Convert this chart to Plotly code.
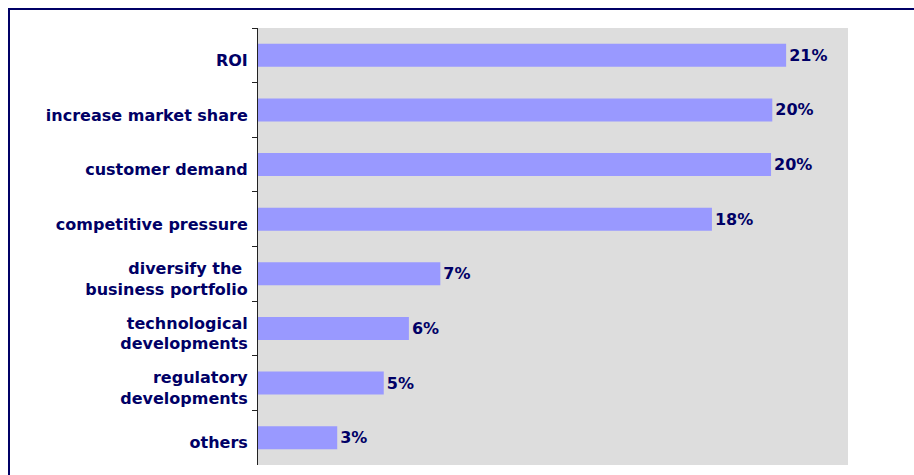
import plotly.graph_objects as go

# Reasons cited, top to bottom
categories = [
    "ROI",
    "increase market share",
    "customer demand",
    "competitive pressure",
    "diversify the <br>business portfolio",
    "technological<br>developments",
    "regulatory<br>developments",
    "others",
]
# Share of respondents (%)
shares = [21.0, 20.45, 20.4, 18.05, 7.25, 6.0, 5.0, 3.15]

NAVY = "#000066"
BAR = "#9999FF"
PLOT_BG = "#DDDDDD"
FONT = "DejaVu Sans, Arial, sans-serif"

W, H = 914, 475
L, R, T, B = 258, 66, 28, 10

fig = go.Figure(
    go.Bar(
        x=shares,
        y=categories,
        orientation="h",
        marker=dict(color=BAR, line=dict(width=0)),
        texttemplate="%{x:.0f}%",
        textposition="outside",
        textfont=dict(family=FONT, size=16, color=NAVY, weight="bold"),
        cliponaxis=False,
        hoverinfo="skip",
    )
)

# Navy frame around the whole chart (runs off the right and bottom edges)
pw, ph = W - L - R, H - T - B
fig.add_shape(
    type="rect",
    xref="paper", yref="paper",
    x0=(9 - L) / pw, x1=(W + 20 - L) / pw,
    y0=(H - B - (H + 20)) / ph, y1=(H - B - 9) / ph,
    line=dict(color=NAVY, width=2),
    fillcolor="rgba(0,0,0,0)",
    layer="above",
)

fig.update_layout(
    width=W,
    height=H,
    margin=dict(l=L, r=R, t=T, b=B, pad=0),
    paper_bgcolor="white",
    plot_bgcolor=PLOT_BG,
    bargap=0.58,
    showlegend=False,
    font=dict(family=FONT, size=16, color=NAVY),
    xaxis=dict(
        range=[0, 23.46],
        visible=False,
        showgrid=False,
        zeroline=False,
        fixedrange=True,
    ),
    yaxis=dict(
        type="category",
        autorange="reversed",
        showgrid=False,
        showline=True,
        linecolor="#222222",
        linewidth=1,
        ticks="outside",
        tickson="boundaries",
        ticklen=5,
        tickcolor="#222222",
        ticklabelstandoff=6,
        ticklabelshift=-5,
        tickfont=dict(family=FONT, size=16, color=NAVY, weight="bold"),
        fixedrange=True,
    ),
)

fig.write_html("out.html")
